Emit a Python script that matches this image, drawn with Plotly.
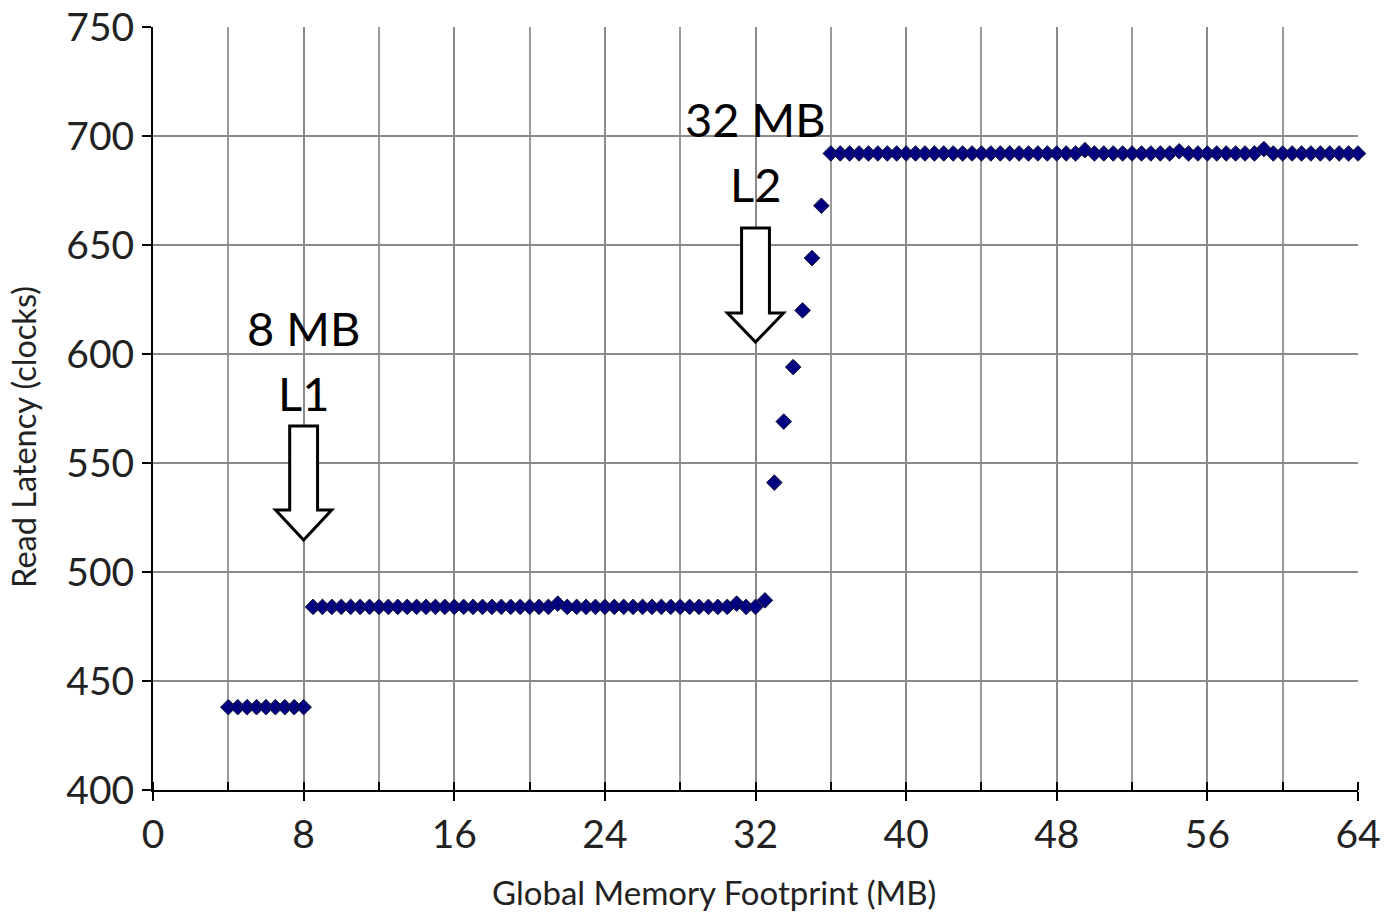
import plotly.graph_objects as go

# ---- data ----
x_mb = [4 + 0.5 * i for i in range(121)]
lat_l1 = [438] * 9                       # 4 .. 8
lat_mid = [484] * 48                     # 8.5 .. 32
lat_mid[26] = 485.5                      # 21.5
lat_mid[45] = 485.5                      # 31
lat_rise = [487, 541, 569, 594, 620, 644, 668]   # 32.5 .. 35.5
lat_top = [692] * 57                     # 36 .. 64
lat_top[27] = 693.5                      # 49.5
lat_top[37] = 693                        # 54.5
lat_top[46] = 694                        # 59
latency = lat_l1 + lat_mid + lat_rise + lat_top

x_ticks = [0, 8, 16, 24, 32, 40, 48, 56, 64]
y_ticks = [400, 450, 500, 550, 600, 650, 700, 750]

x_title = "Global Memory Footprint (MB)"
y_title = "Read Latency (clocks)"

# annotation content
cache_marks = [
    dict(x=8, size="8 MB", level="L1", size_y=612, level_y=582, top=567, head=528.4, tip=514.7),
    dict(x=32, size="32 MB", level="L2", size_y=708, level_y=678, top=657.8, head=618.8, tip=605.5),
]

FONT = "Lato"

fig = go.Figure()
fig.add_trace(go.Scatter(
    x=x_mb, y=latency, mode="markers",
    marker=dict(symbol="diamond", size=12, color="#000080",
                line=dict(color="#1a1a3a", width=1)),
    showlegend=False, hoverinfo="x+y", cliponaxis=False))

shaft_hw = 0.74
head_hw = 1.49
for m in cache_marks:
    x0 = m["x"]
    path = (f"M {x0 - shaft_hw} {m['top']} L {x0 + shaft_hw} {m['top']} "
            f"L {x0 + shaft_hw} {m['head']} L {x0 + head_hw} {m['head']} "
            f"L {x0} {m['tip']} L {x0 - head_hw} {m['head']} "
            f"L {x0 - shaft_hw} {m['head']} Z")
    fig.add_shape(type="path", path=path, xref="x", yref="y",
                  line=dict(color="black", width=3), fillcolor="white", layer="above")
    fig.add_annotation(x=x0, y=m["size_y"], text=m["size"], showarrow=False,
                       font=dict(family=FONT, size=47, color="black"),
                       xref="x", yref="y")
    fig.add_annotation(x=x0, y=m["level_y"], text=m["level"], showarrow=False,
                       font=dict(family=FONT, size=47, color="black"),
                       xref="x", yref="y")

# axis titles
fig.add_annotation(x=0.4656, y=-0.134, xref="paper", yref="paper", text=x_title,
                   showarrow=False, xanchor="center", yanchor="middle",
                   font=dict(family=FONT, size=33, color="#222"))
fig.add_annotation(x=-0.108, y=0.4626, xref="paper", yref="paper", text=y_title,
                   showarrow=False, textangle=-90, xanchor="center", yanchor="middle",
                   font=dict(family=FONT, size=32.5, color="#222"))

fig.update_xaxes(
    range=[0, 64], tickvals=x_ticks, ticktext=[str(v) for v in x_ticks],
    showgrid=True, gridcolor="#8a8a8a", gridwidth=1.5,
    showline=True, linecolor="black", linewidth=2,
    ticks="outside", ticklen=9, tickwidth=2, tickcolor="black",
    minor=dict(dtick=4, tick0=0, ticks="inside", ticklen=8, tickwidth=2,
               tickcolor="black", showgrid=True, gridcolor="#9a9a9a", gridwidth=1.5),
    tickfont=dict(family=FONT, size=39, color="#222"),
    ticklabeloverflow="allow",
    automargin=False, zeroline=False, mirror=False,
)
fig.update_yaxes(
    range=[400, 750], tickvals=y_ticks,
    showgrid=True, gridcolor="#8a8a8a", gridwidth=1.5,
    showline=True, linecolor="black", linewidth=2,
    ticks="outside", ticklen=9, tickwidth=2, tickcolor="black",
    tickfont=dict(family=FONT, size=39, color="#222"),
    ticklabeloverflow="allow",
    automargin=False, zeroline=False,
)
fig.update_layout(
    width=1386, height=914,
    margin=dict(l=153, r=28, t=27, b=124, autoexpand=False),
    paper_bgcolor="white", plot_bgcolor="white",
)
fig.write_html(
    "out.html",
    config={"displayModeBar": False},
    post_script="document.body.style.margin='0';document.body.style.overflow='hidden';",
)
